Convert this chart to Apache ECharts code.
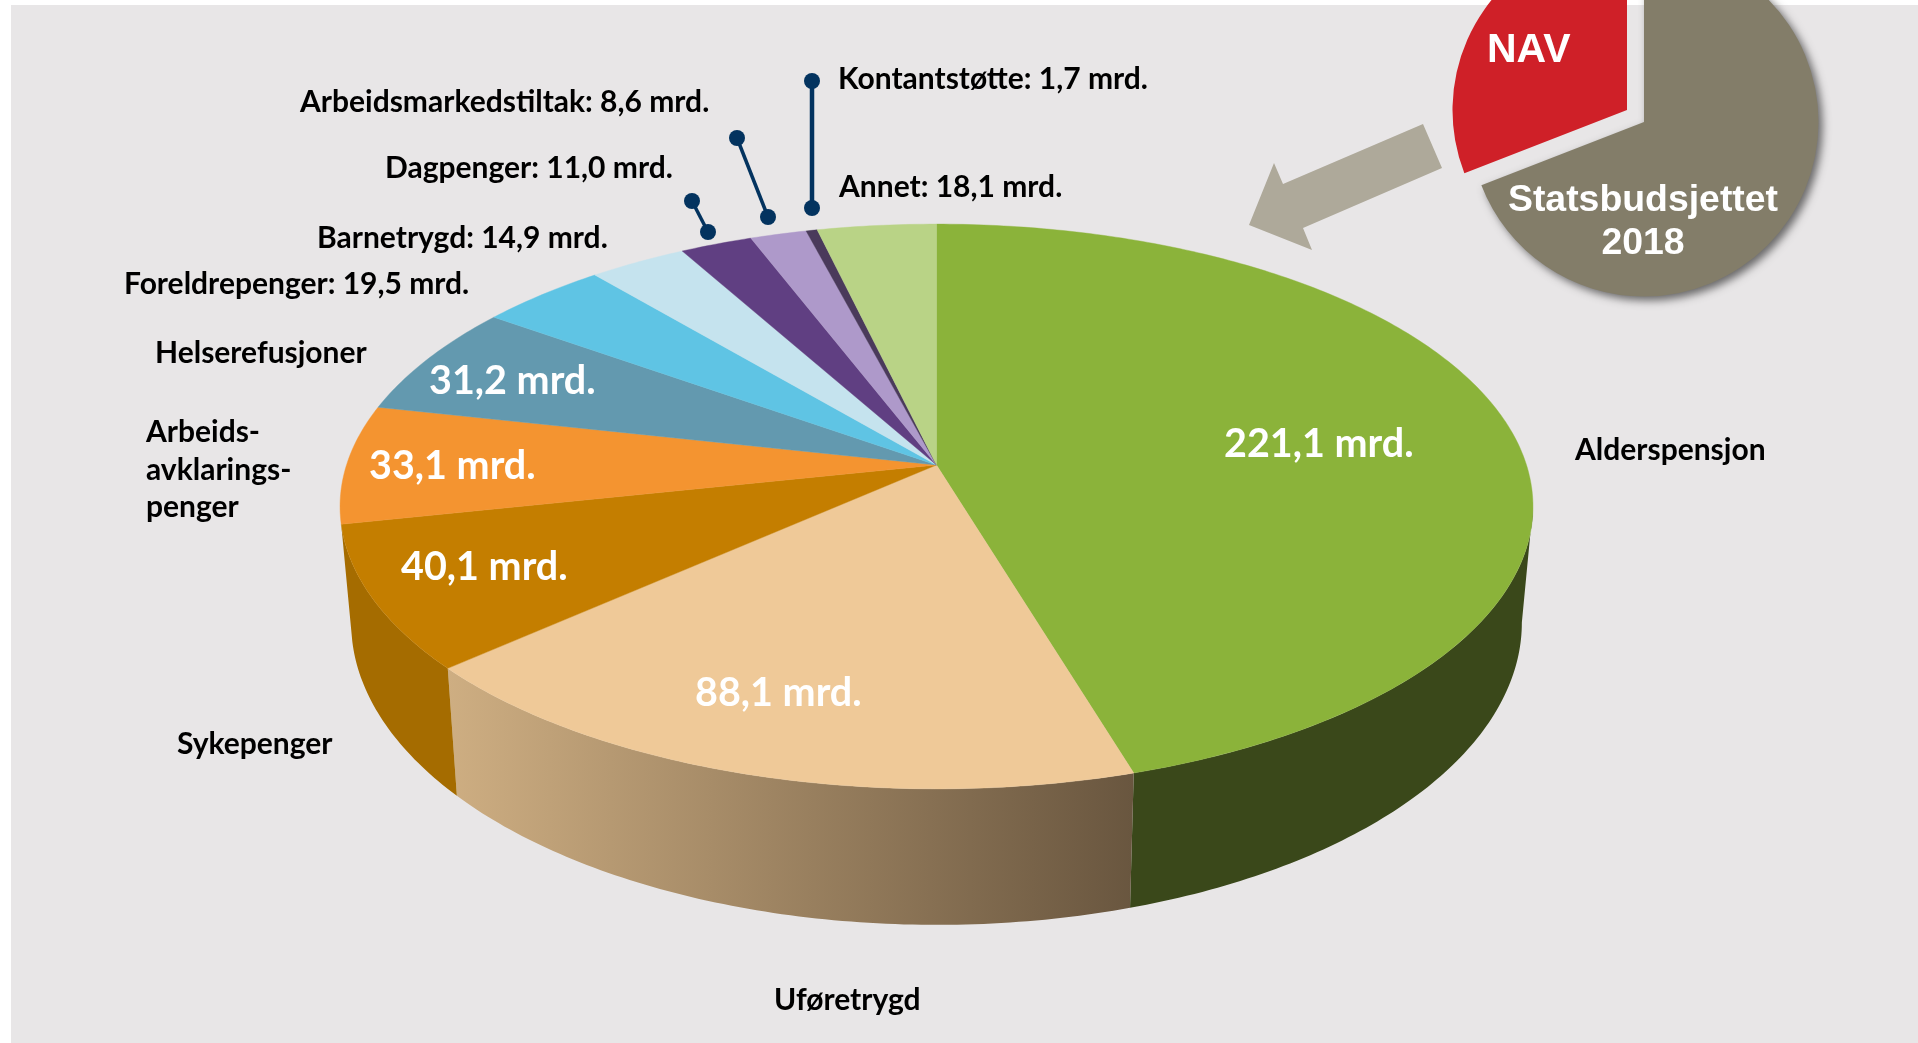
<!DOCTYPE html>
<html>
<head>
<meta charset="utf-8">
<style>html,body{margin:0;padding:0;background:#fff}#c{width:1918px;height:1043px}</style>
<script src="https://cdn.jsdelivr.net/npm/echarts@6/dist/echarts.min.js"></script>
</head>
<body>
<div id="c"></div>
<script>
// ---- data ----
const names = ['Alderspensjon','Uføretrygd','Sykepenger','Arbeidsavklaringspenger','Helserefusjoner','Foreldrepenger','Barnetrygd','Dagpenger','Arbeidsmarkedstiltak','Kontantstøtte','Annet'];
const values = [221.1,88.1,40.1,33.1,31.2,19.5,14.9,11.0,8.6,1.7,18.1];
const budgetNames = ['Statsbudsjettet 2018','NAV'];
const budgetValues = [1090,487.4];

// ---- styling ----
const topColors = ['#8bb33a','#efc998','#c47e00','#f49430','#6399af','#5fc4e4','#c5e3ee','#603f82','#ae99ca','#4a3a5b','#b9d386'];
const wallColors = ['#3a481a',null,'#a56c00',null,null,null,null,null,null,null,null];
const BODY = 'Lato, "Open Sans", sans-serif';
const ARIAL = '"Liberation Sans", Arial, sans-serif';

// perspective disc: unit-circle (u,v) -> screen
const topFace = {cx:936.5, y0:465, p:208, k:0.1469, R:590};
const baseFace = {cx:936.5, y0:578, p:211, k:0.1469, R:579};
const silhouette = Math.acos(-topFace.k)*180/Math.PI; // angle of widest point of the disc
function project(f, deg){
  const a = deg*Math.PI/180, u = Math.sin(a), v = -Math.cos(a), w = 1 - f.k*v;
  return [f.cx + f.R*u/w, (f.y0 + f.p*v)/w];
}
const total = values.reduce((s,v)=>s+v,0);
function sliceAngles(i){
  let s = 0;
  for(let j=0;j<i;j++) s += values[j];
  return [s/total*360,(s+values[i])/total*360];
}
function arc(f,a0,a1){
  const pts=[], n=Math.max(2,Math.ceil((a1-a0)/0.75));
  for(let i=0;i<=n;i++) pts.push(project(f,a0+(a1-a0)*i/n));
  return pts;
}
function renderWall(params){
  const i=params.dataIndex, [s0,s1]=sliceAngles(i);
  const a0=Math.max(s0,silhouette), a1=Math.min(s1,360-silhouette);
  let fill=wallColors[i];
  if(i===1){
    const l=project(topFace,a1), r=project(topFace,a0);
    fill={type:'linear',global:true,x:l[0],y:0,x2:r[0],y2:0,colorStops:[{offset:0,color:'#ceae82'},{offset:1,color:'#69563f'}]};
  }
  if(!fill || a1<=a0) return null;
  const pts=arc(topFace,a0,a1).concat(arc(baseFace,a0,a1).reverse());
  return {type:'polygon',shape:{points:pts},style:{fill:fill},silent:true};
}
function renderTop(params){
  const i=params.dataIndex, [a0,a1]=sliceAngles(i), apex=[topFace.cx,topFace.y0];
  const pts=[apex].concat(arc(topFace,a0,a1));
  return {type:'polygon',shape:{points:pts},style:{fill:topColors[i],stroke:topColors[i],lineWidth:0.4},silent:true};
}

const fmt = v => v.toFixed(1).replace('.',',')+' mrd.';
// [slice index, x, y] white labels on the slices
const onSlice = [[0,1224,444],[1,695,693],[2,401,567],[3,369,466],[4,429,381]];
// [text, x, y] black labels
const outside = [
 [names[9]+': '+fmt(values[9]),838,79],
 [names[10]+': '+fmt(values[10]),839,187],
 [names[8]+': '+fmt(values[8]),300,102],
 [names[7]+': '+fmt(values[7]),385,168],
 [names[6]+': '+fmt(values[6]),317,238],
 [names[5]+': '+fmt(values[5]),124,284],
 [names[4],155,353],
 ['Arbeids-',146,432],['avklarings-',146,470],['penger',146,507],
 [names[2],177,744],[names[1],774,1000],[names[0],1575,450]
];
const leaders = [[812,81,812,208,4.5],[737,138,768,217,3.5],[692,201,708,232,3.5]];
const arrow = [[1423,124],[1442,168],[1303,228],[1312,250],[1249,225],[1274,163],[1283,184]];

const graphics = [{type:'rect',z:-1,shape:{x:11,y:5,width:1907,height:1038},style:{fill:'#e8e6e7'},silent:true}];
graphics.push({type:'polygon',z:5,shape:{points:arrow},style:{fill:'#aea99a'},silent:true});
leaders.forEach(l=>{
  graphics.push({type:'line',z:6,shape:{x1:l[0],y1:l[1],x2:l[2],y2:l[3]},style:{stroke:'#03335f',lineWidth:l[4]},silent:true});
  graphics.push({type:'circle',z:6,shape:{cx:l[0],cy:l[1],r:8},style:{fill:'#03335f'},silent:true});
  graphics.push({type:'circle',z:6,shape:{cx:l[2],cy:l[3],r:8},style:{fill:'#03335f'},silent:true});
});
function txt(t,x,y,size,fill,family,align){
  return {type:'text',z:10,x:x,y:y,silent:true,style:{text:t,fill:fill,font:'bold '+size+'px '+family,textAlign:align||'left',textVerticalAlign:'middle'}};
}
outside.forEach(o=>graphics.push(txt(o[0],o[1],o[2],30,'#000',BODY)));
onSlice.forEach(o=>graphics.push(txt(fmt(values[o[0]]),o[1],o[2],39.5,'#fff',BODY)));
graphics.push(txt('NAV',1487,51,41,'#fff',ARIAL));
graphics.push(txt('Statsbudsjettet',1643,201,37.4,'#fff',ARIAL,'center'));
graphics.push(txt('2018',1643,244,37.4,'#fff',ARIAL,'center'));

const chart = echarts.init(document.getElementById('c'),null,{renderer:'canvas'});
const pieBase = {type:'pie',radius:[0,174.5],startAngle:90,clockwise:true,silent:true,label:{show:false},labelLine:{show:false},animation:false};
chart.setOption({
  animation:false,
  backgroundColor:'#ffffff',
  graphic:graphics,
  series:[
    {type:'custom',name:'wall',coordinateSystem:'none',z:2,data:values,renderItem:renderWall,animation:false,silent:true},
    {type:'custom',name:'top',coordinateSystem:'none',z:3,data:values,renderItem:renderTop,animation:false,silent:true},
    Object.assign({},pieBase,{name:'budget',center:[1644,122],z:2,data:[
      {name:budgetNames[0],value:budgetValues[0],itemStyle:{color:'#837d69',shadowColor:'rgba(0,0,0,0.55)',shadowBlur:9,shadowOffsetX:4,shadowOffsetY:4}},
      {name:budgetNames[1],value:budgetValues[1],itemStyle:{color:'rgba(0,0,0,0)'}}]}),
    Object.assign({},pieBase,{name:'nav',center:[1627,110],z:2,data:[
      {name:budgetNames[0],value:budgetValues[0],itemStyle:{color:'rgba(0,0,0,0)'}},
      {name:budgetNames[1],value:budgetValues[1],itemStyle:{color:'#cf2028'}}]})
  ]
});
</script>
</body>
</html>
